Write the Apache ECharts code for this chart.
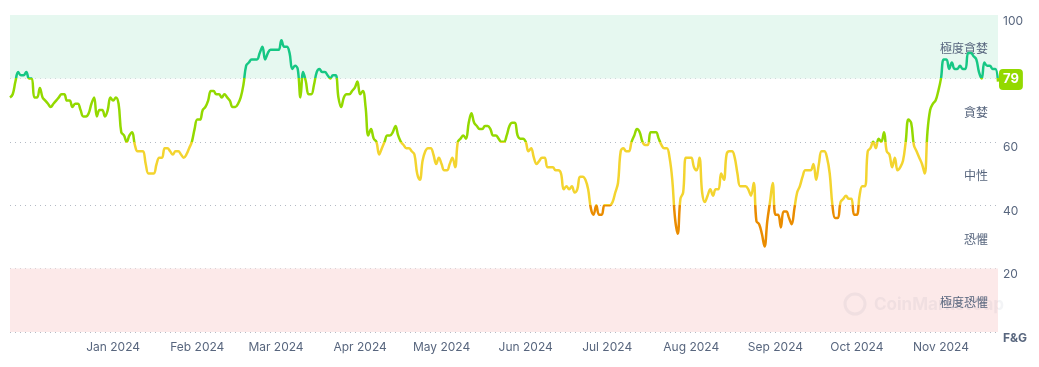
<!DOCTYPE html>
<html><head><meta charset="utf-8">
<script src="https://cdn.jsdelivr.net/npm/echarts@6/dist/echarts.min.js"></script>
<style>html,body{margin:0;padding:0;background:#fff}#c{width:1039px;height:367px}</style>
</head><body><div id="c"></div>
<script>
// Daily Fear & Greed index, first day 2023-11-24
const startDate = [2023, 10, 24];
const fearGreed = [
  74, 75, 79, 82, 81, 81, 82, 80, 80, 74,
  74, 77, 74, 73, 72, 71, 72, 73, 74, 75,
  75, 73, 73, 71, 72, 72, 70, 68, 68, 69,
  72, 74, 68, 70, 70, 68, 70, 74, 73, 74,
  72, 63, 62, 60, 62, 63, 59, 57, 57, 57,
  53, 50, 50, 50, 53, 55, 55, 58, 58, 57,
  56, 57, 57, 56, 55, 56, 58, 60, 64, 67,
  67, 70, 71, 73, 76, 76, 75, 75, 74, 75,
  74, 73, 71, 71, 72, 74, 78, 84, 85, 86,
  86, 86, 88, 90, 86, 88, 89, 89, 89, 89,
  92, 90, 90, 88, 83, 84, 83, 74, 82, 79,
  75, 75, 78, 82, 83, 82, 82, 81, 80, 81,
  81, 74, 71, 74, 75, 75, 76, 77, 79, 75,
  76, 71, 62, 64, 61, 60, 56, 58, 60, 62,
  62, 63, 65, 62, 60, 59, 58, 58, 57, 56,
  50, 48, 54, 57, 58, 58, 56, 53, 55, 53,
  51, 51, 53, 55, 52, 60, 61, 62, 61, 66,
  69, 66, 65, 64, 64, 65, 65, 64, 62, 62,
  61, 60, 60, 62, 65, 66, 66, 62, 61, 61,
  60, 57, 58, 55, 53, 54, 55, 55, 52, 52,
  52, 51, 51, 50, 45, 46, 45, 46, 44, 45,
  49, 49, 48, 45, 39, 37, 40, 37, 37, 40,
  40, 40, 41, 44, 47, 57, 58, 57, 57, 60,
  62, 64, 63, 60, 59, 59, 63, 63, 63, 61,
  59, 58, 58, 55, 48, 36, 31, 42, 44, 55,
  55, 55, 52, 51, 55, 44, 41, 43, 45, 43,
  45, 45, 50, 48, 56, 57, 57, 55, 50, 46,
  46, 46, 45, 43, 47, 35, 34, 31, 27, 35,
  41, 47, 37, 37, 33, 38, 38, 36, 34, 39,
  44, 46, 49, 51, 51, 51, 53, 48, 53, 57,
  57, 55, 50, 40, 36, 36, 41, 42, 43, 42,
  42, 37, 37, 43, 46, 46, 57, 58, 60, 58,
  61, 60, 63, 57, 56, 52, 55, 51, 52, 54,
  60, 67, 66, 59, 57, 55, 53, 50, 63, 70,
  72, 73, 76, 80, 86, 86, 83, 85, 83, 83,
  84, 83, 83, 88, 88, 87, 86, 82, 80, 85,
  84, 84, 83, 83, 79
];
const yTicks = [0, 20, 40, 60, 80, 100];
const zoneNames = ['極度恐懼', '恐懼', '中性', '貪婪', '極度貪婪'];
const zoneColors = ['#ea3943', '#ea8c00', '#f3d42f', '#93d900', '#16c784'];
const bandFills = ['#fce9e9', 'transparent', 'transparent', 'transparent', '#e6f8f0'];
const monthNames = ['Jan','Feb','Mar','Apr','May','Jun','Jul','Aug','Sep','Oct','Nov','Dec'];

function fmt(d) {
  const m = String(d.getMonth() + 1).padStart(2, '0');
  const dd = String(d.getDate()).padStart(2, '0');
  return d.getFullYear() + '-' + m + '-' + dd;
}
const dates = fearGreed.map((_, i) => fmt(new Date(startDate[0], startDate[1], startDate[2] + i)));
const lastVal = fearGreed[fearGreed.length - 1];
function zoneOf(v) { for (let i = 0; i < 5; i++) if (v < yTicks[i + 1]) return i; return 4; }

const chart = echarts.init(document.getElementById('c'), null, {renderer: 'canvas'});
chart.setOption({
  animation: false,
  textStyle: {fontFamily: 'Inter, "Noto Sans CJK TC", sans-serif'},
  grid: {left: 10, right: 41, top: 15, bottom: 35},
  xAxis: {
    type: 'time', min: dates[0], max: dates[dates.length - 1], splitNumber: 12,
    axisLine: {show: false}, axisTick: {show: false}, splitLine: {show: false},
    axisLabel: {
      color: '#58667e', fontSize: 12, margin: 9, hideOverlap: false,
      formatter: function (v) {
        const d = new Date(v);
        if (d.getFullYear() < 2024) return '';
        return monthNames[d.getMonth()] + ' ' + d.getFullYear();
      }
    }
  },
  yAxis: {
    type: 'value', position: 'right', min: 0, max: 100, interval: 20,
    axisLine: {show: false}, axisTick: {show: false},
    splitLine: {lineStyle: {type: [1, 4], color: '#b4bac4', width: 1}},
    axisLabel: {
      margin: 5, verticalAlign: 'top', color: '#58667e', fontSize: 12,
      formatter: v => v === 0 ? '{b|F&G}' : (v === 80 ? '' : String(v)),
      rich: {b: {fontWeight: 'bold', color: '#58667e', fontSize: 12}}
    }
  },
  visualMap: {
    show: false, type: 'piecewise', seriesIndex: 0, dimension: 1,
    pieces: zoneColors.map((c, i) => i === 4
      ? {gte: yTicks[i], lte: yTicks[i + 1], color: c}
      : {gte: yTicks[i], lt: yTicks[i + 1], color: c})
  },
  series: [
    {
      type: 'line', z: 5,
      data: dates.map((d, i) => [d, fearGreed[i]]),
      showSymbol: false, smooth: 0.4,
      lineStyle: {width: 2.5},
      endLabel: {
        show: true, formatter: p => String(p.value[1]),
        color: '#fff', fontWeight: 'bold', fontSize: 13, lineHeight: 15,
        backgroundColor: zoneColors[zoneOf(lastVal)], borderRadius: 4,
        padding: [3, 4, 3, 4], distance: 1, offset: [0, -2]
      }
    },
    {
      type: 'line', z: 1, data: [],
      markArea: {
        silent: true,
        data: zoneNames.map((n, i) => [
          {yAxis: yTicks[i], itemStyle: {color: bandFills[i]},
           label: {show: true, position: 'insideRight', distance: 10, offset: [0, 3], formatter: n, color: '#58667e', fontSize: 12}},
          {yAxis: yTicks[i + 1]}
        ])
      }
    }
  ],
  graphic: [
    {type: 'circle', x: 855, y: 304, z: 100, silent: true, shape: {cx: 0, cy: 0, r: 10}, style: {fill: 'none', stroke: 'rgba(88,102,126,0.07)', lineWidth: 3}},
    {type: 'text', x: 874, y: 296, z: 100, silent: true, style: {text: 'CoinMarketCap', fill: 'rgba(88,102,126,0.07)', font: 'bold 17px Inter, sans-serif'}}
  ]
});
</script></body></html>
